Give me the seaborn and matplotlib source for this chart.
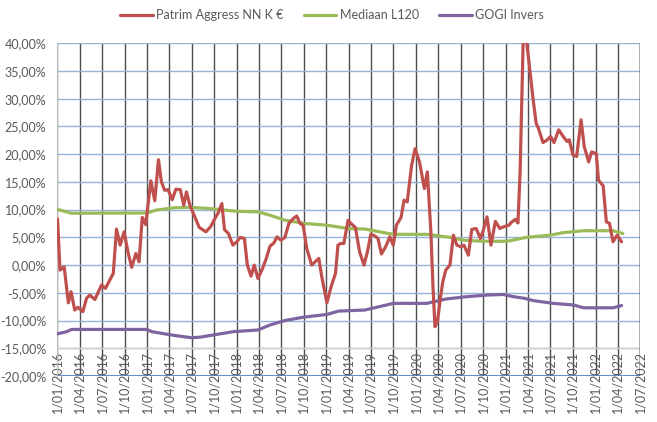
import matplotlib
matplotlib.use("Agg")
import matplotlib.pyplot as plt
import seaborn as sns
import pandas as pd
from matplotlib.ticker import FuncFormatter, MultipleLocator

# ---------------- data ----------------
red_name = "Patrim Aggress NN K €"
red_dates = ["2016-01-02", "2016-01-12", "2016-01-21", "2016-01-29", "2016-02-15", "2016-02-26",
             "2016-03-12", "2016-03-25", "2016-04-14", "2016-04-29", "2016-05-12", "2016-06-02",
             "2016-06-29", "2016-07-15", "2016-08-02", "2016-08-16", "2016-08-29", "2016-09-13",
             "2016-09-29", "2016-10-16", "2016-10-30", "2016-11-16", "2016-11-29", "2016-12-12",
             "2016-12-26", "2017-01-16", "2017-02-01", "2017-02-16", "2017-02-28", "2017-03-13",
             "2017-03-27", "2017-04-13", "2017-04-28", "2017-05-16", "2017-05-30", "2017-06-10",
             "2017-06-24", "2017-07-14", "2017-08-01", "2017-08-28", "2017-09-16", "2017-10-04",
             "2017-10-17", "2017-11-01", "2017-11-12", "2017-11-28", "2017-12-16", "2018-01-01",
             "2018-01-15", "2018-02-01", "2018-02-13", "2018-02-28", "2018-03-13", "2018-03-28",
             "2018-04-16", "2018-05-01", "2018-05-16", "2018-06-01", "2018-06-14", "2018-06-29",
             "2018-07-16", "2018-08-01", "2018-08-19", "2018-09-02", "2018-09-16", "2018-09-28",
             "2018-10-13", "2018-11-02", "2018-11-16", "2018-12-01", "2018-12-13", "2019-01-03",
             "2019-01-20", "2019-02-07", "2019-02-17", "2019-02-28", "2019-03-13", "2019-03-30",
             "2019-04-13", "2019-04-29", "2019-05-16", "2019-06-03", "2019-06-17", "2019-07-01",
             "2019-07-19", "2019-07-30", "2019-08-13", "2019-08-30", "2019-09-16", "2019-09-30",
             "2019-10-13", "2019-11-01", "2019-11-13", "2019-11-26", "2019-12-14", "2019-12-28",
             "2020-01-15", "2020-02-04", "2020-02-16", "2020-03-01", "2020-03-10", "2020-03-18",
             "2020-03-28", "2020-04-10", "2020-04-19", "2020-05-01", "2020-05-18", "2020-06-01",
             "2020-06-15", "2020-07-02", "2020-07-14", "2020-08-01", "2020-08-15", "2020-09-02",
             "2020-09-19", "2020-10-01", "2020-10-16", "2020-11-01", "2020-11-19", "2020-12-07",
             "2020-12-22", "2021-01-13", "2021-01-25", "2021-02-09", "2021-02-19", "2021-02-28",
             "2021-03-13", "2021-03-22", "2021-04-10", "2021-04-22", "2021-05-04", "2021-05-13",
             "2021-06-01", "2021-06-16", "2021-07-02", "2021-07-16", "2021-08-04", "2021-08-22",
             "2021-09-07", "2021-09-16", "2021-10-01", "2021-10-16", "2021-11-03", "2021-11-16",
             "2021-12-04", "2021-12-16", "2022-01-04", "2022-01-13", "2022-02-01", "2022-02-14",
             "2022-02-27", "2022-03-13", "2022-03-30", "2022-04-17"]
red_vals = [8.3, -0.9, -0.6, -0.3, -6.8, -4.8,
            -8.1, -7.6, -8.4, -6.0, -5.4, -6.2,
            -3.6, -4.2, -2.7, -1.5, 6.5, 3.6,
            6.0, 2.1, -0.4, 2.1, 0.6, 8.6,
            7.3, 15.2, 11.6, 19.0, 15.0, 13.5,
            13.6, 11.8, 13.7, 13.6, 10.8, 13.2,
            10.8, 8.7, 6.8, 6.0, 6.9, 8.4,
            9.4, 11.1, 6.4, 5.7, 3.6, 4.2,
            5.0, 4.8, 0.0, -2.0, 0.0, -2.4,
            -0.6, 1.2, 3.4, 4.0, 5.1, 4.5,
            5.0, 7.5, 8.4, 8.85, 7.5, 7.2,
            3.0, 0.0, 0.6, 1.2, -2.1, -6.8,
            -3.9, -1.5, 3.6, 3.9, 3.9, 8.1,
            7.4, 6.8, 2.4, 0.0, 2.4, 5.6,
            5.2, 4.8, 2.0, 3.3, 5.1, 3.6,
            7.2, 8.6, 11.7, 11.4, 18.0, 21.0,
            18.6, 13.8, 16.8, 6.3, -3.9, -11.1,
            -10.2, -5.7, -3.0, -0.9, 0.0, 5.4,
            3.6, 3.3, 3.6, 1.8, 6.45, 6.6,
            4.8, 6.3, 8.7, 3.6, 7.9, 6.6,
            6.9, 7.2, 7.8, 8.25, 7.6, 17.1,
            42.0, 42.0, 34.6, 29.8, 25.6, 24.7,
            22.1, 22.5, 23.2, 22.1, 24.4, 23.2,
            22.3, 22.6, 19.85, 19.6, 26.2, 21.35,
            18.6, 20.4, 20.1, 15.3, 14.3, 7.8,
            7.5, 4.2, 5.4, 4.2]

green_name = "Mediaan L120"
green_dates = ["2016-01-02", "2016-02-28", "2017-01-01", "2017-02-04", "2017-03-28", "2017-04-25",
               "2017-07-01", "2017-09-13", "2018-01-01", "2018-03-28", "2018-05-16", "2018-07-16",
               "2018-10-07", "2019-01-03", "2019-03-30", "2019-06-07", "2019-09-10", "2019-10-07",
               "2020-02-14", "2020-05-19", "2020-07-11", "2020-10-01", "2021-01-07", "2021-03-25",
               "2021-07-01", "2021-08-22", "2021-11-13", "2022-03-13", "2022-04-22"]
green_vals = [10.05, 9.35, 9.4, 9.9, 10.2, 10.35,
              10.4, 10.2, 9.7, 9.6, 9.0, 8.1,
              7.5, 7.2, 6.6, 6.5, 5.7, 5.55,
              5.55, 5.0, 4.5, 4.3, 4.3, 5.0,
              5.4, 5.85, 6.2, 6.2, 5.7]

purple_name = "GOGI Invers"
purple_dates = ["2016-01-02", "2016-02-09", "2016-02-28", "2017-01-01", "2017-01-19", "2017-03-13",
                "2017-04-25", "2017-07-01", "2017-08-04", "2017-09-28", "2017-12-19", "2018-03-28",
                "2018-05-16", "2018-07-16", "2018-09-28", "2019-01-03", "2019-02-19", "2019-06-07",
                "2019-10-01", "2020-02-14", "2020-05-04", "2020-07-25", "2020-10-16", "2020-12-22",
                "2021-02-01", "2021-03-19", "2021-04-22", "2021-07-13", "2021-10-04", "2021-11-13",
                "2022-03-13", "2022-04-17"]
purple_vals = [-12.4, -12.0, -11.6, -11.6, -12.0, -12.4,
               -12.7, -13.1, -13.0, -12.6, -12.0, -11.7,
               -10.8, -10.0, -9.4, -8.9, -8.3, -8.1,
               -6.9, -6.9, -6.1, -5.7, -5.4, -5.3,
               -5.7, -6.0, -6.4, -6.9, -7.2, -7.7,
               -7.7, -7.3]

tick_dates = ["2016-01-01", "2016-04-01", "2016-07-01", "2016-10-01",
              "2017-01-01", "2017-04-01", "2017-07-01", "2017-10-01",
              "2018-01-01", "2018-04-01", "2018-07-01", "2018-10-01",
              "2019-01-01", "2019-04-01", "2019-07-01", "2019-10-01",
              "2020-01-01", "2020-04-01", "2020-07-01", "2020-10-01",
              "2021-01-01", "2021-04-01", "2021-07-01", "2021-10-01",
              "2022-01-01", "2022-04-01", "2022-07-01"]
tick_labels = ["1/01/2016", "1/04/2016", "1/07/2016", "1/10/2016",
               "1/01/2017", "1/04/2017", "1/07/2017", "1/10/2017",
               "1/01/2018", "1/04/2018", "1/07/2018", "1/10/2018",
               "1/01/2019", "1/04/2019", "1/07/2019", "1/10/2019",
               "1/01/2020", "1/04/2020", "1/07/2020", "1/10/2020",
               "1/01/2021", "1/04/2021", "1/07/2021", "1/10/2021",
               "1/01/2022", "1/04/2022", "1/07/2022"]

# ---------------- styling ----------------
sns.set_style("white")
plt.rcParams["font.family"] = ["Lato", "DejaVu Sans"]
TXT = "#595959"
RED, GREEN, PURPLE = "#C0504D", "#9BBB59", "#8064A2"

fig = plt.figure(figsize=(6.57, 4.22), dpi=100)
ax = fig.add_axes([57.3 / 657, 1 - 376 / 422, (640 - 57.3) / 657, (376 - 43.3) / 422])

sns.lineplot(x=pd.to_datetime(red_dates), y=red_vals, ax=ax, color=RED, lw=2.3,
             label=red_name, zorder=4)
sns.lineplot(x=pd.to_datetime(green_dates), y=green_vals, ax=ax, color=GREEN, lw=2.3,
             label=green_name, zorder=3)
sns.lineplot(x=pd.to_datetime(purple_dates), y=purple_vals, ax=ax, color=PURPLE, lw=2.3,
             label=purple_name, zorder=3)

ticks = pd.to_datetime(tick_dates)
ax.set_xlim(ticks[0], ticks[-1])
ax.set_ylim(-20, 40)
ax.yaxis.set_major_locator(MultipleLocator(5))
ax.yaxis.set_major_formatter(FuncFormatter(lambda v, p: f"{v:.2f}%".replace(".", ",")))
ax.set_xticks(ticks)
ax.set_xticklabels(tick_labels, rotation=90)
ax.set_xlabel("")
ax.set_ylabel("")

ax.grid(axis="y", color="#95B3D7", lw=1.0, zorder=0)
ax.grid(axis="x", color="#4D4D4D", lw=1.0, zorder=1)
ax.set_axisbelow(True)
ax.axhline(-15, color="#D0D0D0", lw=1.0, zorder=2)
ax.axhline(-20, color="#4A7EBB", lw=1.2, zorder=2)
ax.axvline(ticks[-1], color="black", lw=1.0, zorder=2)

for s in ["top", "right", "bottom"]:
    ax.spines[s].set_visible(False)
ax.spines["left"].set_color("#BFBFBF")
ax.spines["left"].set_linewidth(0.8)

ax.tick_params(axis="y", length=0, pad=8, labelsize=9, labelcolor=TXT)
ax.tick_params(axis="x", length=0, pad=-18, labelsize=9, labelcolor=TXT)

handles, labels = ax.get_legend_handles_labels()
ax.get_legend().remove()
fig.legend(handles, labels, loc="center", bbox_to_anchor=(332 / 657, 1 - 15 / 422), ncol=3,
           frameon=False, fontsize=9, handlelength=2.6, handletextpad=0.3,
           columnspacing=1.6, labelcolor=TXT)

fig.savefig("out.png", dpi=100)
